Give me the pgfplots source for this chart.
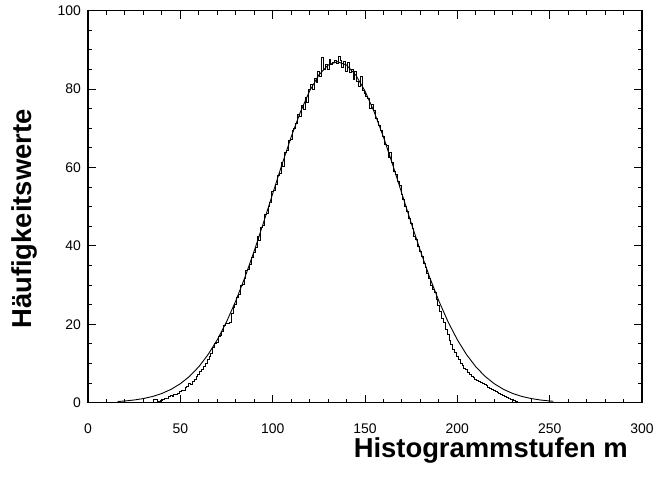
\documentclass[border=0pt]{standalone}
\usepackage{fontspec}
\setmainfont{Liberation Sans}
\usepackage{pgfplots}
\pgfplotsset{compat=1.18}

\begin{document}
\begin{tikzpicture}
\begin{axis}[
    scale only axis,
    width=554bp, height=392bp,
    xmin=0, xmax=300, ymin=0, ymax=100,
    xtick={0,50,...,300}, ytick={0,20,...,100},
    minor x tick num=4, minor y tick num=3,
    tick align=inside,
    major tick length=8bp, minor tick length=4bp,
    axis line style={line width=1.3bp},
    every tick/.style={line width=1bp, black},
    /pgf/number format/assume math mode=true,
    ticklabel style={font=\fontsize{14}{14}\selectfont, inner sep=1bp},
    xticklabel style={yshift=-20bp},
    yticklabel style={xshift=-6bp},
    clip=false,
]

% fitted curve
\addplot[black, line width=0.9bp] coordinates {
(16,0.30)(20,0.44)(25,0.69)(30,1.06)(35,1.59)(40,2.35)(45,3.41)(50,4.84)
(55,6.73)(60,9.17)(65,12.26)(70,16.05)(75,20.61)(80,25.95)(85,32.01)(90,38.71)
(95,45.87)(100,53.30)(105,60.70)(110,67.76)(115,74.14)(120,79.51)(125,83.59)
(130,86.13)(135,87.00)(140,86.13)(145,83.59)(150,79.51)(155,74.14)(160,67.76)
(165,60.70)(170,53.30)(175,45.87)(180,38.71)(185,32.01)(190,25.95)(195,20.61)
(200,16.05)(205,12.26)(210,9.17)(215,6.73)(220,4.84)(225,3.41)(230,2.35)
(235,1.59)(240,1.06)(245,0.69)(250,0.44)(252,0.36)
};

% histogram
\addplot[black, line width=0.9bp, const plot mark mid] coordinates {
(16,0)(35,0)(36,0.8)(37,0.8)(38,0.3)(39,0.3)(40,0.6)(41,0.8)(42,1.0)(43,1.2)
(44,1.5)(45,1.8)(46,1.6)(47,2.0)(48,2.2)(49,2.4)(50,2.8)(51,3.0)(52,3.2)
(53,3.8)(54,4.2)(55,4.8)(56,4.6)(57,5.3)(58,6.0)(59,6.6)(60,7.2)(61,7.9)
(62,8.6)(63,9.2)(64,10.1)(65,11.0)(66,11.9)(67,12.6)(68,14.0)(69,15.0)
(70,15.4)(71,16.8)(72,17.2)(73,18.3)(74,19.6)(75,20.2)(76,20.1)(77,20.4)
(78,22.8)(79,24.3)(80,25.1)(81,26.8)(82,27.6)(83,29.9)(84,30.2)(85,31.6)
(86,33.7)(87,34.1)(88,35.2)(89,37.0)(90,38.4)(91,39.6)(92,42.3)(93,41.5)
(94,44.6)(95,45.2)(96,47.9)(97,48.3)(98,50.0)(99,51.2)(100,53.8)(101,54.1)
(102,55.6)(103,57.9)(104,58.6)(105,61.4)(106,60.2)(107,63.9)(108,64.4)
(109,66.8)(110,67.1)(111,69.5)(112,70.0)(113,71.2)(114,73.6)(115,73.0)
(116,75.9)(117,74.8)(118,77.9)(119,76.6)(120,79.8)(121,81.2)(122,79.9)
(123,82.6)(124,81.7)(125,84.4)(126,83.2)(127,88.0)(128,84.9)(129,86.3)
(130,85.0)(131,87.5)(132,86.2)(133,86.8)(134,87.4)(135,86.5)(136,88.3)
(137,87.2)(138,85.4)(139,87.0)(140,84.6)(141,86.9)(142,84.2)(143,85.0)
(144,82.4)(145,84.6)(146,82.0)(147,80.7)(148,83.1)(149,79.6)(150,78.8)
(151,78.0)(152,77.6)(153,75.0)(154,76.1)(155,74.5)(156,72.4)(157,71.8)
(158,70.6)(159,69.4)(160,68.0)(161,66.0)(162,65.7)(163,62.6)(164,63.9)
(165,61.2)(166,59.1)(167,58.2)(168,56.4)(169,55.3)(170,53.0)(171,51.9)
(172,50.0)(173,48.9)(174,47.1)(175,45.6)(176,44.4)(177,42.5)(178,41.6)
(179,39.8)(180,38.5)(181,37.2)(182,35.6)(183,34.4)(184,32.9)(185,31.7)
(186,30.0)(187,29.0)(188,28.0)(189,26.4)(190,24.8)(191,23.4)(192,21.6)
(193,20.5)(194,18.7)(195,17.5)(196,16.0)(197,14.9)(198,13.6)(199,12.9)
(200,11.7)(201,11.0)(202,10.1)(203,9.6)(204,8.8)(205,8.4)(206,7.8)(207,7.2)
(208,6.8)(209,6.4)(210,6.0)(211,5.8)(212,5.4)(213,5.1)(214,4.8)(215,4.6)
(216,4.3)(217,4.0)(218,3.7)(219,3.4)(220,3.1)(221,2.8)(222,2.6)(223,2.3)
(224,2.1)(225,1.9)(226,1.7)(227,1.4)(228,1.2)(229,0.9)(230,0.8)(231,0.6)
(232,0.4)(233,0)(253,0)
};

\node[anchor=base, inner sep=0pt, font=\bfseries\fontsize{27.5}{27.5}\selectfont]
  at ([yshift=-55bp]axis description cs:0.727,0) {Histogrammstufen m};
\node[rotate=90, anchor=base, inner sep=0pt, font=\bfseries\fontsize{27.5}{27.5}\selectfont]
  at ([xshift=-56.3bp]axis description cs:0,0.4686) {Häufigkeitswerte};
\end{axis}
\path (current axis.south west) ++(-88bp,-75.3bp) rectangle ++(657bp,478bp);
\end{tikzpicture}
\end{document}
